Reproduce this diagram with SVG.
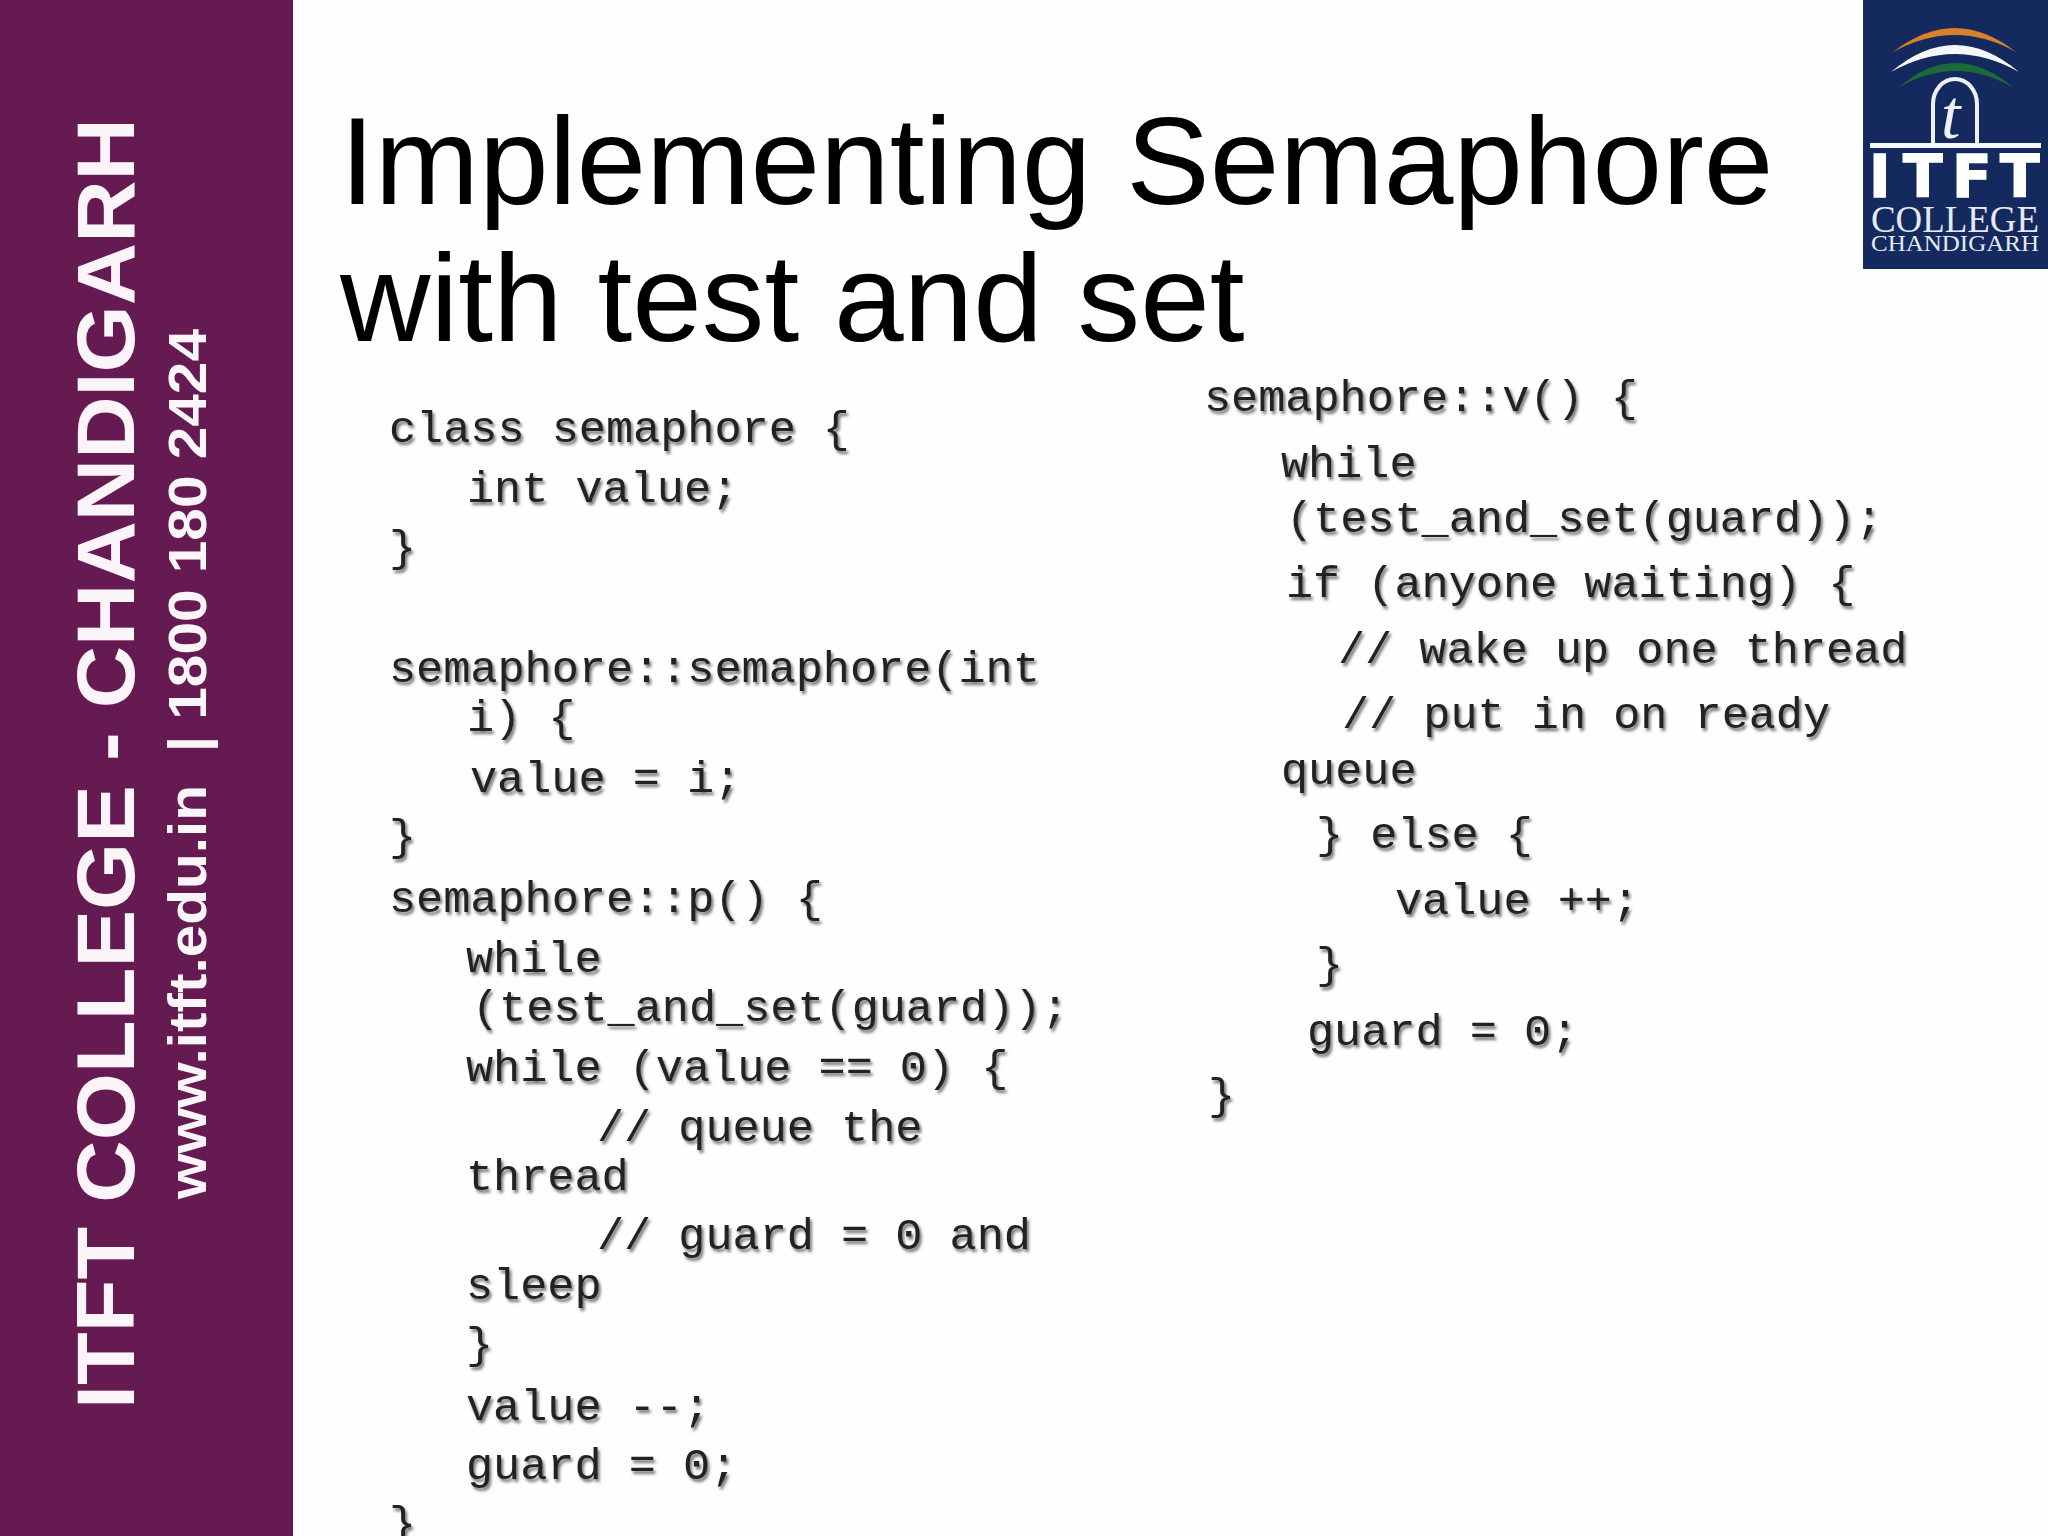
<svg xmlns="http://www.w3.org/2000/svg" width="2048" height="1536" viewBox="0 0 2048 1536">
<style>
.t{font-family:"Liberation Sans",Arial,sans-serif;font-size:125.2px;fill:#000}
.c{font-family:"Liberation Mono","Courier New",monospace;font-size:45.2px;fill:#222;white-space:pre}
.s{font-family:"Liberation Sans",Arial,sans-serif;font-weight:bold;fill:#fbf5fa}
.l{font-family:"Liberation Serif","Times New Roman",serif;fill:#e6e9f2}
</style>
<defs><filter id="sh" x="-5%" y="-5%" width="110%" height="110%"><feDropShadow dx="2" dy="3" stdDeviation="1.6" flood-color="#000" flood-opacity="0.55"/></filter></defs>
<rect width="2048" height="1536" fill="#fefefe"/>
<g id="sidebar">
<rect width="293" height="1536" fill="#651a52"/>
<text class="s" font-size="81" transform="translate(134 1409) rotate(-90)" textLength="1291" lengthAdjust="spacingAndGlyphs">ITFT COLLEGE - CHANDIGARH</text>
<text class="s" font-size="53" xml:space="preserve" transform="translate(206 1199) rotate(-90)" textLength="870" lengthAdjust="spacingAndGlyphs">www.itft.edu.in  | 1800 180 2424</text>
</g>
<g id="logo">
<rect x="1863" width="185" height="269" fill="#14295e"/>
<path d="M1893 52Q1955 4 2016 52Q1955 18 1893 52Z" fill="#d9802a"/>
<path d="M1891 72Q1955 18 2019 72Q1955 36 1891 72Z" fill="#f4f6fa"/>
<path d="M1898 88Q1955 38 2014 88Q1955 54 1898 88Z" fill="#1a6a3a"/>
<path d="M1933 143V104a22 25 0 0 1 44 0V143" fill="none" stroke="#eef0f6" stroke-width="4"/>
<text x="1941" y="138" font-family="Liberation Serif, serif" font-style="italic" font-size="70" fill="#eef0f6">t</text>
<rect x="1870" y="143" width="171" height="5" fill="#f4f6fa"/>
<text x="1869 1903 1952 2000" y="197" font-family="DejaVu Sans, sans-serif" font-weight="bold" font-size="58" fill="#fff" stroke="#fff" stroke-width="1.5">ITFT</text>
<text class="l" x="1871" y="232" font-size="37" textLength="168" lengthAdjust="spacingAndGlyphs">COLLEGE</text>
<text class="l" x="1871" y="251" font-size="24" textLength="168" lengthAdjust="spacingAndGlyphs">CHANDIGARH</text>
</g>
<g id="title">
<text class="t" x="340" y="204">Implementing Semaphore</text>
<text class="t" x="340" y="341">with test and set</text>
</g>
<g id="code-left" filter="url(#sh)">
<text class="c" x="389" y="442">class semaphore {</text>
<text class="c" x="467" y="502">int value;</text>
<text class="c" x="389" y="561">}</text>
<text class="c" x="389" y="682">semaphore::semaphore(int</text>
<text class="c" x="467" y="731">i) {</text>
<text class="c" x="470" y="792">value = i;</text>
<text class="c" x="389" y="850">}</text>
<text class="c" x="389" y="912">semaphore::p() {</text>
<text class="c" x="466" y="972">while</text>
<text class="c" x="472" y="1021">(test_and_set(guard));</text>
<text class="c" x="466" y="1081">while (value == 0) {</text>
<text class="c" x="597" y="1141">// queue the</text>
<text class="c" x="466" y="1190">thread</text>
<text class="c" x="597" y="1249">// guard = 0 and</text>
<text class="c" x="466" y="1299">sleep</text>
<text class="c" x="466" y="1358">}</text>
<text class="c" x="466" y="1420">value --;</text>
<text class="c" x="466" y="1479">guard = 0;</text>
<text class="c" x="389" y="1537">}</text>
</g>
<g id="code-right" filter="url(#sh)">
<text class="c" x="1204" y="411">semaphore::v() {</text>
<text class="c" x="1281" y="477">while</text>
<text class="c" x="1286" y="532">(test_and_set(guard));</text>
<text class="c" x="1286" y="597">if (anyone waiting) {</text>
<text class="c" x="1338" y="663">// wake up one thread</text>
<text class="c" x="1342" y="728">// put in on ready</text>
<text class="c" x="1281" y="784">queue</text>
<text class="c" x="1316" y="848">} else {</text>
<text class="c" x="1395" y="914">value ++;</text>
<text class="c" x="1316" y="978">}</text>
<text class="c" x="1307" y="1045">guard = 0;</text>
<text class="c" x="1208" y="1109">}</text>
</g>
</svg>
